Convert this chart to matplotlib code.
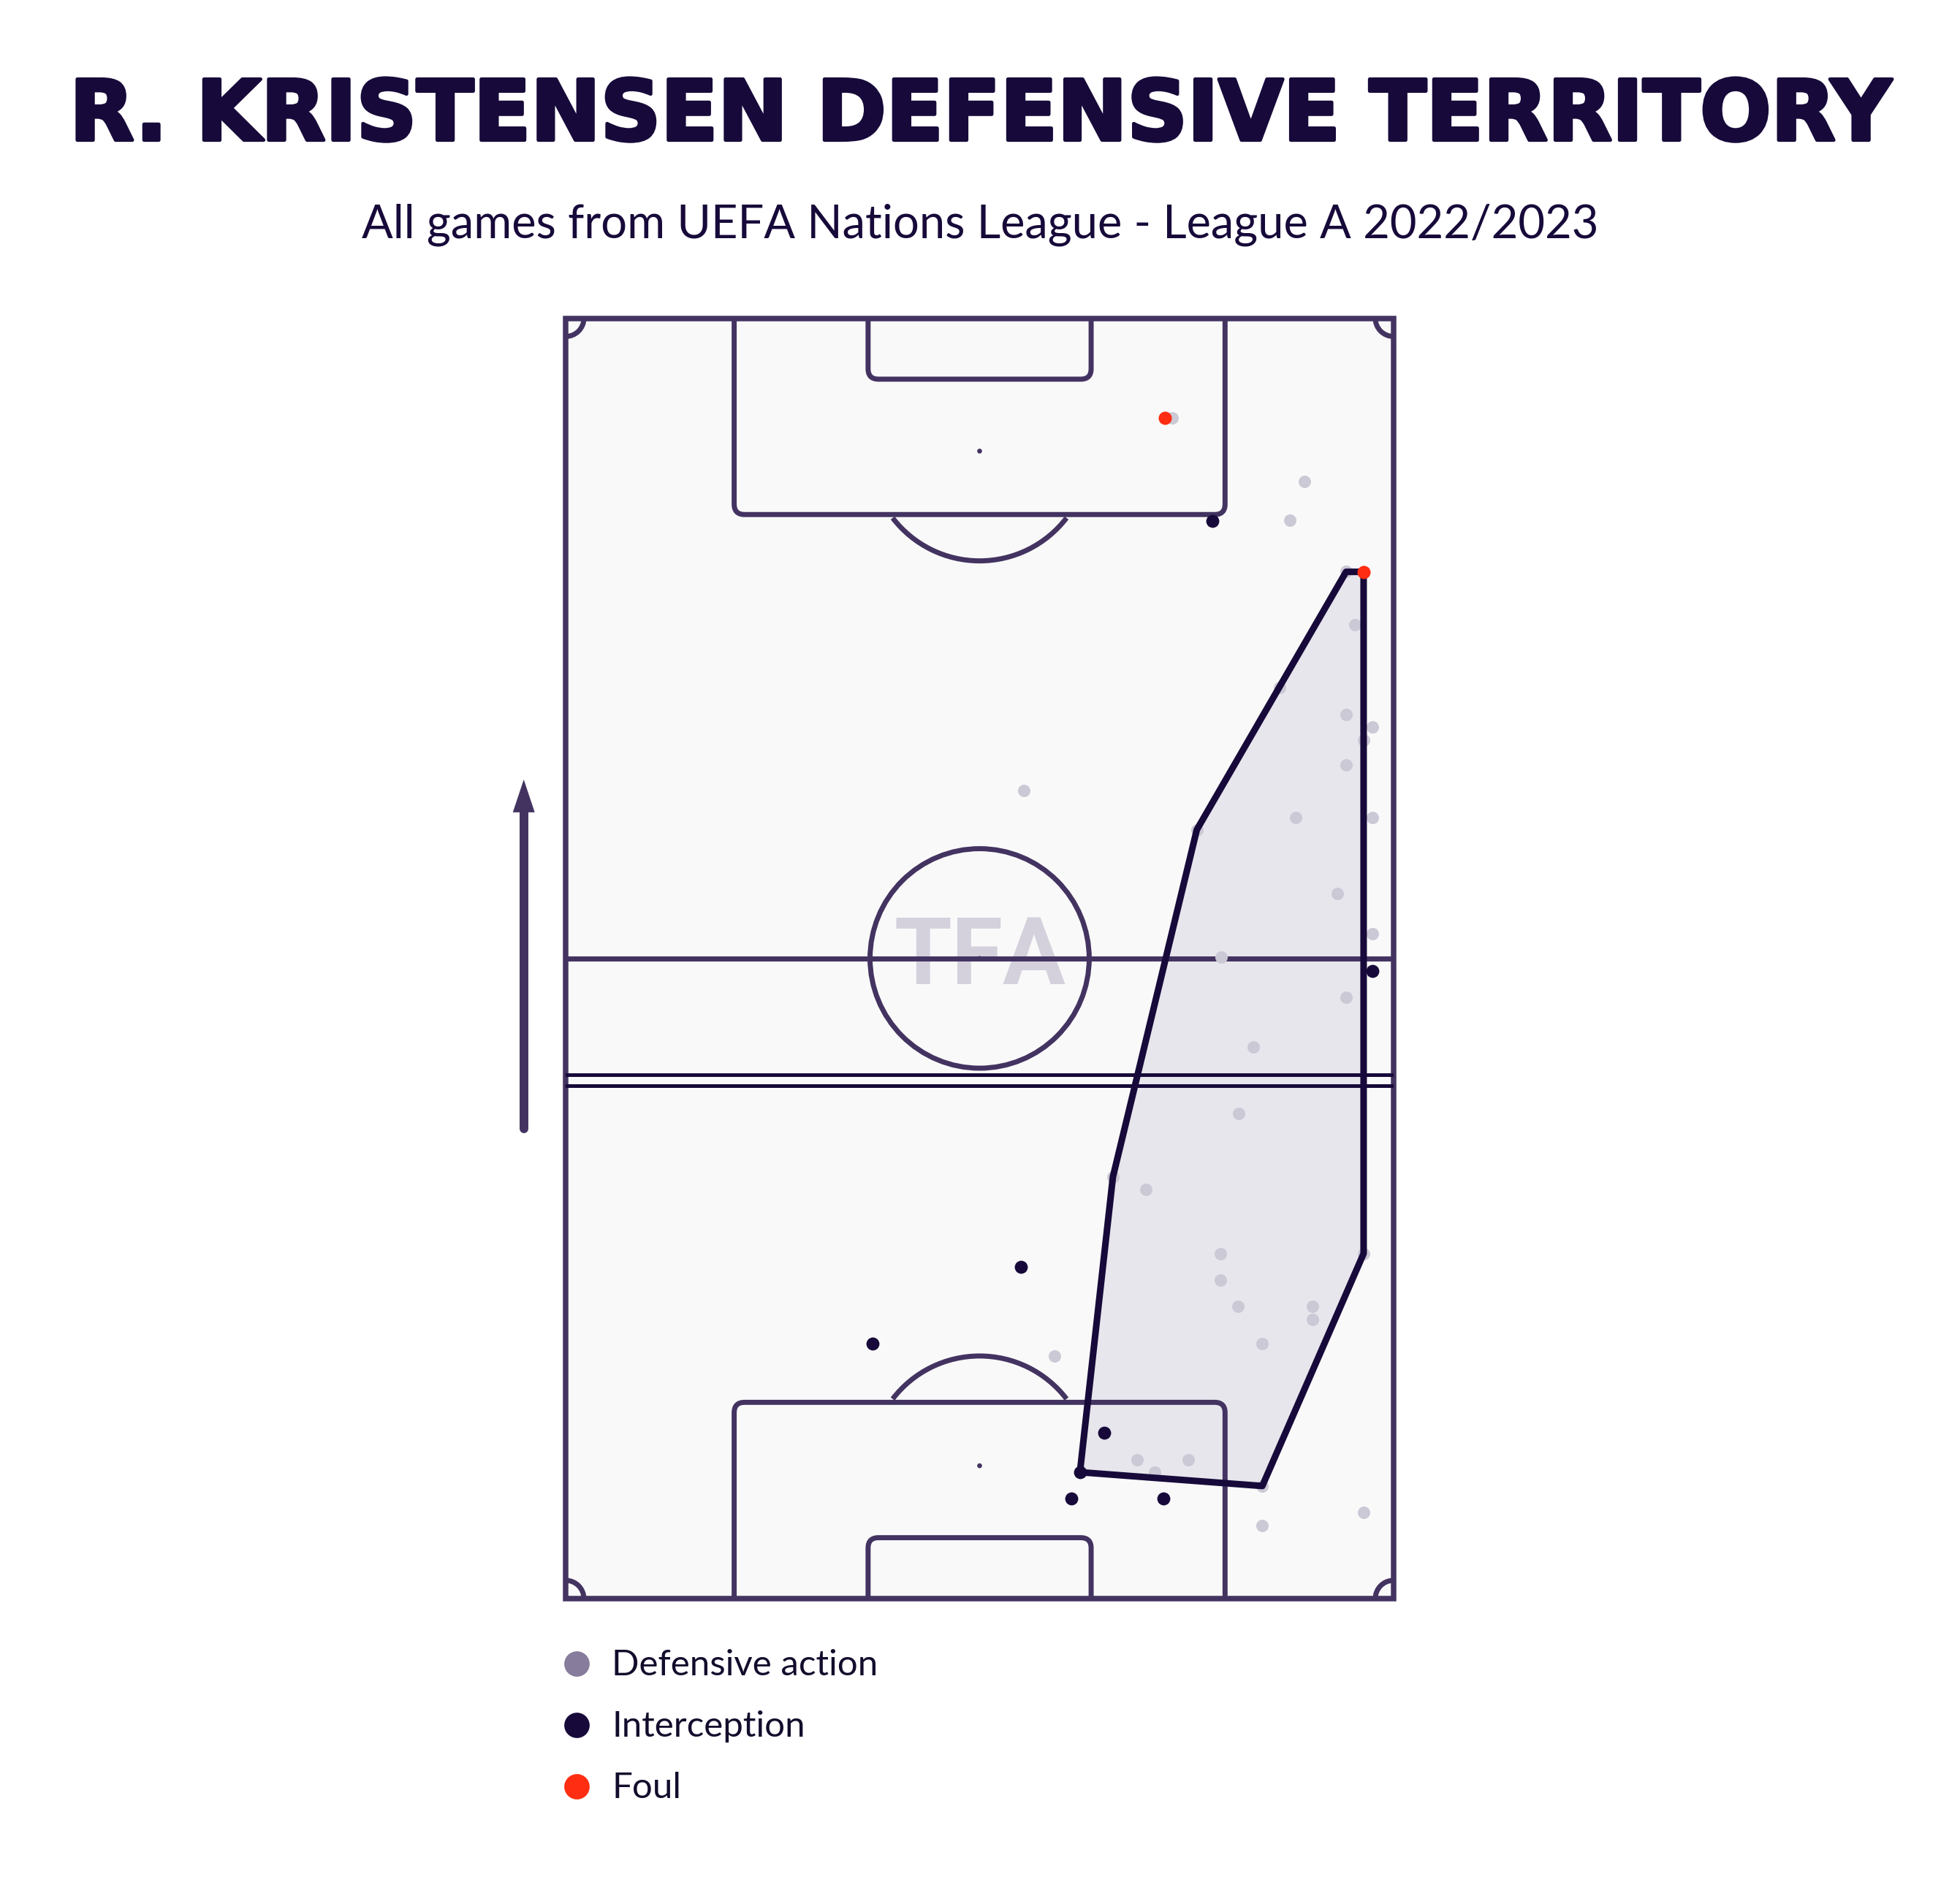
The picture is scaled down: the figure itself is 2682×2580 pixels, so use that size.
import matplotlib.pyplot as plt
import matplotlib.patheffects as pe
from matplotlib.patches import Rectangle, Arc, Circle, FancyBboxPatch, Polygon

# pitch is 68 x 105 m, drawn vertically, team attacking upwards
defensive_x = [49.80, 60.71, 59.48, 64.10, 64.82, 58.66, 64.10, 66.26, 65.54, 64.10,
               37.62, 59.95, 66.26, 51.84, 63.38, 66.26, 53.84, 64.10, 56.50, 55.27,
               44.95, 47.68, 53.79, 65.54, 53.79, 55.23, 61.33, 61.33, 57.22, 40.13,
               46.96, 51.13, 48.40, 57.22, 65.54, 57.22]
defensive_y = [96.82, 91.64, 88.41, 84.26, 79.85, 74.73, 72.47, 71.45, 70.42, 68.37,
               66.26, 64.07, 64.07, 63.05, 57.82, 54.54, 52.63, 49.31, 45.21, 39.78,
               34.59, 33.53, 28.30, 28.30, 26.15, 24.00, 24.00, 22.90, 20.93, 19.90,
               11.40, 11.40, 10.37, 9.24, 7.09, 6.02]

interception_x = [53.12, 66.26, 37.41, 25.20, 44.25, 42.24, 41.52, 49.11]
interception_y = [88.40, 51.47, 27.22, 20.93, 13.58, 10.37, 8.22, 8.22]

foul_x = [49.22, 65.54]
foul_y = [96.82, 84.20]

# territory polygon (hull of the actions)
hull_x = [64.10, 65.54, 65.54, 57.22, 42.24, 44.95, 51.84]
hull_y = [84.20, 84.20, 28.30, 9.24, 10.37, 34.59, 63.05]

# average action height lines
avg_line_y = [42.94, 42.05]

legend_labels = ['Defensive action', 'Interception', 'Foul']

LINE = '#433361'
DARK = '#170a3a'
BG = '#f9f9f9'
FILL = '#e7e6ec'
GREY = '#ccc9d6'
GREY_LEG = '#877c9b'
RED = '#ff2e12'


def draw_pitch(ax, lw=5.0):
    ax.add_patch(Rectangle((0, 0), 68, 105, fc=BG, ec='none', zorder=0))
    ax.add_patch(Rectangle((0, 0), 68, 105, fill=False, ec=LINE, lw=5.4,
                           zorder=2, clip_on=False, joinstyle='miter'))
    ax.plot([0, 68], [52.5, 52.5], color=LINE, lw=lw, zorder=2)
    ax.add_patch(Circle((34, 52.5), 9.0, fill=False, ec=LINE, lw=lw, zorder=2))
    ax.add_patch(Circle((34, 52.5), 0.2, fc=LINE, ec='none', zorder=2))
    box = 'round,pad=0,rounding_size=0.85'
    # boxes run past the goal line so the rounded corners there get clipped
    ax.add_patch(FancyBboxPatch((13.84, 88.9), 40.32, 20, boxstyle=box,
                                fill=False, ec=LINE, lw=lw, zorder=2))
    ax.add_patch(FancyBboxPatch((13.84, -3.9), 40.32, 20, boxstyle=box,
                                fill=False, ec=LINE, lw=lw, zorder=2))
    ax.add_patch(FancyBboxPatch((24.84, 100.0), 18.32, 10, boxstyle=box,
                                fill=False, ec=LINE, lw=lw, zorder=2))
    ax.add_patch(FancyBboxPatch((24.84, -5.0), 18.32, 10, boxstyle=box,
                                fill=False, ec=LINE, lw=lw, zorder=2))
    for sy in (94.1, 10.9):
        ax.add_patch(Circle((34, sy), 0.2, fc=LINE, ec='none', zorder=2))
    ax.add_patch(Arc((34, 94.1), 18.0, 18.0, theta1=217.5, theta2=322.5,
                     ec=LINE, lw=lw, zorder=2))
    ax.add_patch(Arc((34, 10.9), 18.0, 18.0, theta1=37.5, theta2=142.5,
                     ec=LINE, lw=lw, zorder=2))
    for (cx, cy), t1 in zip([(0, 0), (68, 0), (68, 105), (0, 105)], [0, 90, 180, 270]):
        ax.add_patch(Arc((cx, cy), 3, 3, theta1=t1, theta2=t1 + 90,
                         ec=LINE, lw=lw, zorder=2))
    ax.text(34, 52.5, 'TFA', fontsize=92, family=['Roboto', 'DejaVu Sans'],
            weight='bold', color='#d4d1dd', ha='center', va='center', zorder=1)


fig = plt.figure(figsize=(26.82, 25.80), dpi=100)
fig.patch.set_facecolor('white')
ax = fig.add_axes([0.2886, 0.1519, 0.4224, 0.6793])
ax.set_xlim(0, 68)
ax.set_ylim(0, 105)
ax.axis('off')

draw_pitch(ax)

for ly in avg_line_y:
    ax.plot([0, 68], [ly, ly], color=DARK, lw=3.6, zorder=2.5)

hull = list(zip(hull_x, hull_y))
ax.add_patch(Polygon(hull, closed=True, fc=FILL, ec='none', zorder=1))
ax.add_patch(Polygon(hull, closed=True, fill=False, ec=DARK, lw=6.5,
                     joinstyle='round', zorder=4))

ax.scatter(defensive_x, defensive_y, s=150, c=GREY, lw=0, zorder=3)
ax.scatter(interception_x, interception_y, s=165, c=DARK, lw=0, zorder=5)
ax.scatter(foul_x, foul_y, s=170, c=RED, lw=0, zorder=6)

# direction of play arrow
ax.plot([-3.44, -3.44], [38.5, 64.6], color=LINE, lw=8.6,
        solid_capstyle='round', clip_on=False)
ax.add_patch(Polygon([[-4.34, 64.48], [-2.54, 64.48], [-3.44, 67.17]],
                     fc=LINE, ec='none', clip_on=False))

# legend
leg_colors = [GREY_LEG, DARK, RED]
for i, (label, col) in enumerate(zip(legend_labels, leg_colors)):
    ry = -5.31 - 5.05 * i
    ax.scatter([0.9], [ry], s=625, c=col, lw=0, clip_on=False)
    ax.text(3.8, ry - 0.95, label, fontsize=35.5, family=['Lato', 'DejaVu Sans'],
            color='#140c2c', va='baseline', ha='left')

fig.text(0.5, 0.9257, 'R. KRISTENSEN DEFENSIVE TERRITORY', ha='center',
         va='baseline', fontsize=82.3, fontweight='bold', family='DejaVu Sans',
         color=DARK,
         path_effects=[pe.withStroke(linewidth=3.5, foreground=DARK)])
fig.text(0.5, 0.8740, 'All games from UEFA Nations League - League A 2022/2023',
         ha='center', va='baseline', fontsize=45.5, family=['Lato', 'DejaVu Sans'],
         color=DARK)

fig.savefig('out.png', dpi=100, facecolor='white')
